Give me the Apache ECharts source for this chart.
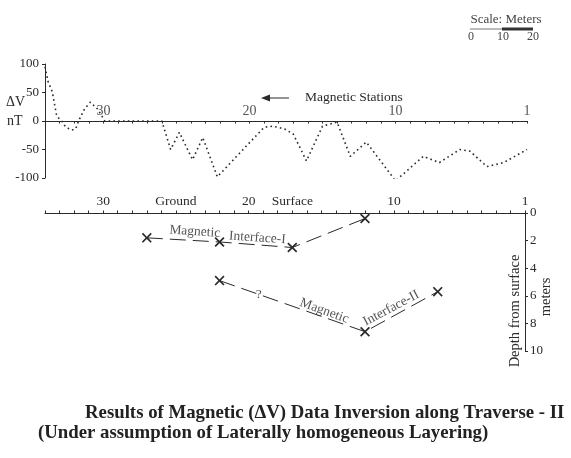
<!DOCTYPE html>
<html><head><meta charset="utf-8">
<script src="https://cdn.jsdelivr.net/npm/echarts@6/dist/echarts.min.js"></script>
<style>html,body{margin:0;padding:0;background:#fff}#c{width:571px;height:458px}</style>
</head><body><div id="c"></div>
<script>
// Magnetic (ΔV) profile along traverse (station number, nT)
const profileStations = [34.0, 33.8, 33.5, 33.2, 32.8, 32.6, 32.2, 31.9, 31.7, 31.3, 30.9, 30.4, 29.9, 26.0, 25.4, 24.8, 23.9, 23.2, 22.2, 19.0, 18.4, 17.6, 17.0, 16.1, 15.0, 14.0, 13.1, 12.0, 10.0, 8.1, 7.0, 5.6, 4.9, 3.75, 2.6, 1.0];
const profileDeltaV  = [95, 70, 51, 9, -2, -10, -16, -14, 0, 21, 33, 21, 0, 0, -50, -20, -68, -29, -98, -11, -9, -14, -23, -70, -9, -2, -62, -37, -105, -62, -73, -50, -53, -80, -73, -50];
// Magnetic interfaces (station, depth m)
const iface1Stations = [27, 22, 17, 12];
const iface1Depth    = [1.8, 2.1, 2.5, 0.4];
const iface2Stations = [22, 12, 7];
const iface2Depth    = [4.9, 8.6, 5.7];
// tick labels
const stationLabelValues = [30, 20, 10, 1];
const stationTickLabels = {30: '30', 20: '20', 10: '10', 1: '1'};
const groundTickLabels  = {30: '30', 25: 'Ground', 20: '20', 17: 'Surface', 10: '10', 1: '1'};
const deltaVTicks = [-100, -50, 0, 50, 100];
const depthTicks  = [0, 2, 4, 6, 8, 10];

const F = 'Liberation Serif';
const INK = '#2a2a2a';
const zip = (a, b) => a.map((v, i) => [v, b[i]]);
const cross = 'path://M0,1.2L1.2,0L5,3.8L8.8,0L10,1.2L6.2,5L10,8.8L8.8,10L5,6.2L1.2,10L0,8.8L3.8,5Z';

const chart = echarts.init(document.getElementById('c'), null, {renderer: 'canvas'});
chart.setOption({
  backgroundColor: '#fff',
  animation: false,
  grid: [
    {left: 45, right: 44, top: 64, bottom: 280},
    {left: 45, right: 46, top: 213, bottom: 107}
  ],
  xAxis: [
    {gridIndex: 0, type: 'value', min: 1, max: 34, interval: 1, inverse: true,
     axisLine: {onZero: true, lineStyle: {color: INK, width: 1}},
     axisTick: {show: true, length: 2.5, lineStyle: {color: INK}},
     axisLabel: {show: false},
     splitLine: {show: false}},
    {gridIndex: 1, type: 'value', position: 'top', min: 1, max: 34, interval: 1, inverse: true,
     axisLine: {lineStyle: {color: INK, width: 1}},
     axisTick: {show: true, length: 2.5, lineStyle: {color: INK}},
     axisLabel: {margin: 5, color: INK, fontFamily: F, fontSize: 13.5,
       formatter: v => groundTickLabels[v] || ''},
     splitLine: {show: false}}
  ],
  yAxis: [
    {gridIndex: 0, type: 'value', min: -100, max: 100, interval: 50,
     axisLine: {show: true, lineStyle: {color: INK, width: 1}},
     axisTick: {show: true, length: 3, lineStyle: {color: INK}},
     axisLabel: {margin: 6, color: INK, fontFamily: F, fontSize: 13,
       formatter: v => deltaVTicks.includes(v) ? String(v) : ''},
     splitLine: {show: false}},
    {gridIndex: 1, type: 'value', position: 'right', min: 0, max: 10, interval: 2, inverse: true,
     axisLine: {show: true, lineStyle: {color: INK, width: 1}},
     axisTick: {show: true, length: 3, lineStyle: {color: INK}},
     axisLabel: {margin: 5, color: INK, fontFamily: F, fontSize: 13,
       formatter: v => depthTicks.includes(v) ? String(v) : ''},
     splitLine: {show: false}}
  ],
  series: [
    {type: 'line', xAxisIndex: 0, yAxisIndex: 0, data: zip(profileStations, profileDeltaV),
     symbol: 'none', lineStyle: {color: INK, width: 1.6, type: [1.6, 3.2]}},
    {type: 'scatter', xAxisIndex: 0, yAxisIndex: 0, symbolSize: 0, silent: true,
     data: stationLabelValues.map(s => [s, 0]),
     label: {show: true, position: 'top', distance: 3, color: INK, fontFamily: F, fontSize: 14,
       formatter: p => stationTickLabels[p.value[0]]}},
    {type: 'line', xAxisIndex: 1, yAxisIndex: 1, data: zip(iface1Stations, iface1Depth),
     symbol: cross, symbolSize: 10, itemStyle: {color: INK},
     lineStyle: {color: INK, width: 1, type: [16, 7]}},
    {type: 'line', xAxisIndex: 1, yAxisIndex: 1, data: zip(iface2Stations, iface2Depth),
     symbol: cross, symbolSize: 10, itemStyle: {color: INK},
     lineStyle: {color: INK, width: 1, type: [16, 7]}},
    {type: 'scatter', xAxisIndex: 1, yAxisIndex: 1, symbolSize: 0, silent: true,
     label: {show: true, position: 'inside', color: INK, fontFamily: F, fontSize: 13.5,
       formatter: p => p.data.name},
     data: [
       {name: 'Magnetic', value: [23.7, 1.35], label: {rotate: -4}},
       {name: 'Interface-I', value: [19.4, 1.8], label: {rotate: -4}},
       {name: '?', value: [19.3, 5.9], label: {rotate: 0}},
       {name: 'Magnetic', value: [14.8, 7.1], label: {rotate: -20}},
       {name: 'Interface-II', value: [10.2, 6.9], label: {rotate: 28}}
     ]}
  ],
  graphic: [
    {type: 'text', left: 6, top: 95, style: {text: 'ΔV', font: '14px "Liberation Serif"', fill: INK}},
    {type: 'text', left: 7, top: 114, style: {text: 'nT', font: '14px "Liberation Serif"', fill: INK}},
    {type: 'text', left: 305, top: 90, style: {text: 'Magnetic Stations', font: '13.5px "Liberation Serif"', fill: INK}},
    {type: 'line', shape: {x1: 289, y1: 98, x2: 268, y2: 98}, style: {stroke: INK, lineWidth: 1}},
    {type: 'polygon', shape: {points: [[261, 98], [270, 94.5], [270, 101.5]]}, style: {fill: INK}},
    {type: 'text', x: 506, y: 20, style: {text: 'Scale: Meters', font: '13px "Liberation Serif"', fill: '#444', align: 'center', verticalAlign: 'middle'}},
    {type: 'rect', shape: {x: 470, y: 28, width: 32, height: 2}, style: {fill: '#bbb'}},
    {type: 'rect', shape: {x: 502, y: 27.5, width: 31, height: 3}, style: {fill: '#333'}},
    {type: 'text', x: 471, y: 37, style: {text: '0', font: '12px "Liberation Serif"', fill: '#444', align: 'center', verticalAlign: 'middle'}},
    {type: 'text', x: 503, y: 37, style: {text: '10', font: '12px "Liberation Serif"', fill: '#444', align: 'center', verticalAlign: 'middle'}},
    {type: 'text', x: 533, y: 37, style: {text: '20', font: '12px "Liberation Serif"', fill: '#444', align: 'center', verticalAlign: 'middle'}},
    {type: 'text', x: 515, y: 311, rotation: Math.PI / 2,
     style: {text: 'Depth from surface', font: '14.5px "Liberation Serif"', fill: INK, align: 'center', verticalAlign: 'middle'}},
    {type: 'text', x: 546, y: 297, rotation: Math.PI / 2,
     style: {text: 'meters', font: '14.5px "Liberation Serif"', fill: INK, align: 'center', verticalAlign: 'middle'}},
    {type: 'text', x: 85, y: 413,
     style: {text: 'Results of Magnetic (ΔV) Data Inversion along Traverse - II', font: 'bold 18.8px "Liberation Serif"', fill: '#222', verticalAlign: 'middle'}},
    {type: 'text', x: 38, y: 433,
     style: {text: '(Under assumption of Laterally homogeneous Layering)', font: 'bold 18.8px "Liberation Serif"', fill: '#222', verticalAlign: 'middle'}}
  ]
});
</script>
</body></html>
